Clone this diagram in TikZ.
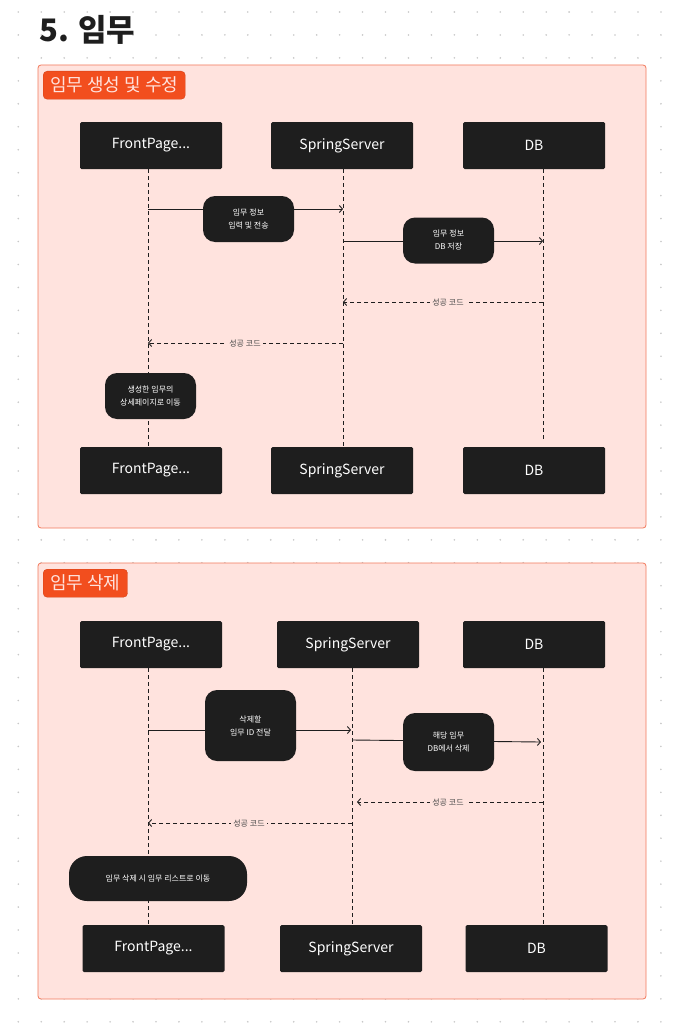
\documentclass[tikz,border=0pt]{standalone}
\usepackage{fontspec}
\setmainfont{Noto Sans CJK KR}
\usetikzlibrary{arrows.meta}
\definecolor{boxblack}{HTML}{1E1E1E}
\definecolor{framefill}{HTML}{FFE3DE}
\definecolor{frameline}{HTML}{F27A5C}
\definecolor{tagfill}{HTML}{F24E1E}
\definecolor{tagline}{HTML}{D4431A}
\definecolor{dotgray}{HTML}{C8C8C8}
\definecolor{replytext}{HTML}{4A4A4A}
\tikzset{
    actor/.style={fill=boxblack, text=white, rounded corners=1.5pt, minimum width=142pt, minimum height=47pt, inner sep=0pt, font=\fontsize{14}{16}\selectfont},
    note/.style={fill=boxblack, text=white, rounded corners=12pt, minimum width=91pt, minimum height=46pt, inner sep=0pt, align=center, font=\fontsize{8}{13}\selectfont},
    frame/.style={draw=frameline, fill=framefill, line width=0.8pt, rounded corners=3pt},
    tag/.style={draw=tagline, fill=tagfill, text=framefill, rounded corners=4pt, minimum height=28pt, inner xsep=7pt, inner ysep=0pt, font=\fontsize{18}{20}\selectfont},
    life/.style={draw=boxblack, line width=0.8pt, dash pattern=on 4pt off 3pt},
    call/.style={draw=boxblack, line width=0.9pt, -{Straight Barb[length=3pt,width=7pt]}},
    reply/.style={call, dash pattern=on 4pt off 3pt},
    replylabel/.style={fill=framefill, text=replytext, inner sep=2pt, font=\fontsize{8}{9}\selectfont}
}
\begin{document}
\begin{tikzpicture}[x=1pt,y=-1pt]
\useasboundingbox[fill=white] (0,0) rectangle (673,1033);
% background dot grid
\foreach \i in {0,...,28}
  \foreach \j in {0,...,44}
    \fill[dotgray] (18.3+22.95*\i,12+22.95*\j) circle (0.9);
\node[anchor=base west, inner sep=0pt, font=\fontsize{31}{34}\selectfont\bfseries, text=boxblack] (title) at (39,42) {5. 임무};

%% frame 1: create / edit
\draw[frame] (38,65) rectangle (646,528);
\node[tag, anchor=north west] (tagA) at (43,71) {임무 생성 및 수정};
\node[actor] (fpA) at (151,145.5) {FrontPage...};
\node[actor] (ssA) at (342,145.5) {SpringServer};
\node[actor] (dbA) at (534,145.5) {DB};
\node[actor] (fpB) at (151,470.5) {FrontPage...};
\node[actor] (ssB) at (342,470.5) {SpringServer};
\node[actor] (dbB) at (534,470.5) {DB};
\coordinate (fpLx) at (148,0);
\coordinate (ssLx) at (343,0);
\coordinate (dbLx) at (543,0);
\coordinate (dbEndA) at (543,440);
\draw[life] (fpLx |- fpA.south) -- (fpLx |- fpB.north);
\draw[life] (ssLx |- ssA.south) -- (ssLx |- ssB.north);
\draw[life] (dbLx |- dbA.south) -- (dbEndA);
% messages
\coordinate (m1s) at (148,209);
\coordinate (m1e) at (343,209);
\draw[call] (m1s) -- (m1e);
\node[note] (n1) at (248.5,219) {임무 정보\\입력 및 전송};
\coordinate (m2s) at (343,241);
\coordinate (m2e) at (543,241);
\draw[call] (m2s) -- (m2e);
\node[note] (n2) at (448.5,240.5) {임무 정보\\DB 저장};
\coordinate (r1s) at (543,302);
\coordinate (r1e) at (343,302);
\draw[reply] (r1s) -- (r1e);
\node[replylabel] (l1) at (448,302) {성공 코드};
\coordinate (r2s) at (343,343);
\coordinate (r2e) at (148,343);
\draw[reply] (r2s) -- (r2e);
\node[replylabel] (l2) at (245,343) {성공 코드};
\node[note] (n3) at (150.5,396) {생성한 임무의\\상세페이지로 이동};

%% frame 2: delete
\draw[frame] (38,563) rectangle (646,999);
\node[tag, anchor=north west] (tagB) at (43,569) {임무 삭제};
\node[actor] (fpC) at (151,644.5) {FrontPage...};
\node[actor] (ssC) at (348,644.5) {SpringServer};
\node[actor] (dbC) at (534,644.5) {DB};
\node[actor] (fpD) at (153.5,948.5) {FrontPage...};
\node[actor] (ssD) at (351,948.5) {SpringServer};
\node[actor] (dbD) at (536.5,948.5) {DB};
\coordinate (ssLy) at (352,0);
\draw[life] (fpLx |- fpC.south) -- (fpLx |- fpD.north);
\draw[life] (ssLy |- ssC.south) -- (ssLy |- ssD.north);
\draw[life] (dbLx |- dbC.south) -- (dbLx |- dbD.north);
% messages
\coordinate (d1s) at (148,730);
\coordinate (d1e) at (351,730);
\draw[call] (d1s) -- (d1e);
\node[note, minimum height=71pt] (n4) at (250.5,725.5) {삭제할\\임무 ID 전달};
\coordinate (d2s) at (352,740);
\coordinate (d2e) at (541,742);
\draw[call] (d2s) -- (d2e);
\node[note, minimum height=58pt] (n5) at (448.5,742) {해당 임무\\DB에서 삭제};
\coordinate (q1s) at (543,802);
\coordinate (q1e) at (357,802);
\draw[reply] (q1s) -- (q1e);
\node[replylabel] (l3) at (448,802) {성공 코드};
\coordinate (q2s) at (352,823);
\coordinate (q2e) at (148,823);
\draw[reply] (q2s) -- (q2e);
\node[replylabel] (l4) at (249,823) {성공 코드};
\node[note, minimum width=178pt, minimum height=45pt, rounded corners=18pt] (n6) at (158,878.5) {임무 삭제 시 임무 리스트로 이동};
\end{tikzpicture}
\end{document}
